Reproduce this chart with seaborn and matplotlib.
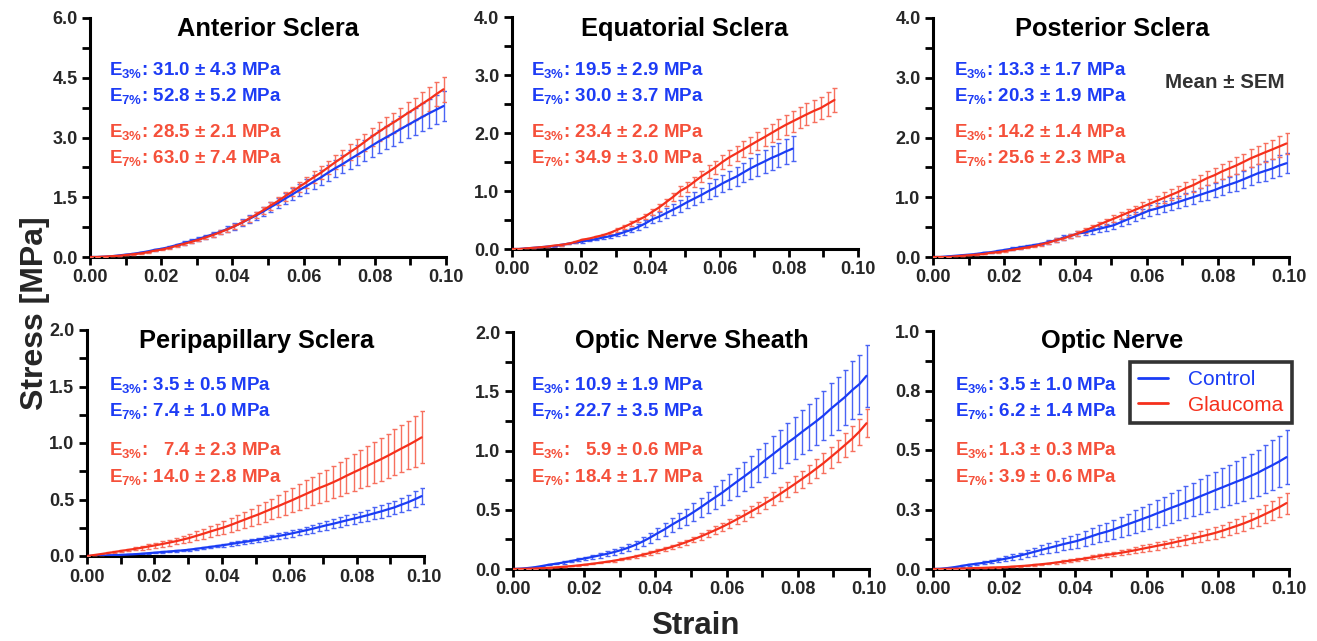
import matplotlib
matplotlib.use("Agg")
import matplotlib.pyplot as plt
import seaborn as sns
import pandas as pd
from matplotlib.ticker import MultipleLocator, FixedLocator

# ---------------- data ----------------
STRAIN = [0.0000, 0.0020, 0.0041, 0.0061, 0.0081, 0.0101, 0.0122, 0.0142, 0.0162, 0.0182,
          0.0203, 0.0223, 0.0243, 0.0264, 0.0284, 0.0304, 0.0324, 0.0345, 0.0365, 0.0385,
          0.0405, 0.0426, 0.0446, 0.0466, 0.0486, 0.0507, 0.0527, 0.0547, 0.0568, 0.0588,
          0.0608, 0.0628, 0.0649, 0.0669, 0.0689, 0.0709, 0.0730, 0.0750, 0.0770, 0.0791,
          0.0811, 0.0831, 0.0851, 0.0872, 0.0892, 0.0912, 0.0932, 0.0953, 0.0973, 0.0993]

TITLES = ["Anterior Sclera", "Equatorial Sclera", "Posterior Sclera",
          "Peripapillary Sclera", "Optic Nerve Sheath", "Optic Nerve"]
GROUPS = ["Control", "Glaucoma"]

# Anterior sclera
ant_ctrl = [0, 0, .01, .02, .04, .06, .08, .11, .14, .18, .21, .25, .30, .35, .40, .45, .51, .57, .63, .70,
            .77, .86, .95, 1.04, 1.14, 1.25, 1.35, 1.46, 1.57, 1.68, 1.78, 1.89, 2.00, 2.12, 2.23, 2.33, 2.45,
            2.56, 2.67, 2.79, 2.90, 3.00, 3.10, 3.21, 3.31, 3.41, 3.51, 3.61, 3.70, 3.79]
ant_ctrl_sem = [0, 0, 0, 0, .01, .01, .01, .01, .02, .02, .02, .03, .03, .04, .04, .05, .05, .06, .06, .07,
                .08, .09, .10, .10, .11, .12, .13, .14, .15, .16, .17, .18, .19, .20, .21, .22, .23, .25,
                .26, .27, .29, .30, .31, .32, .33, .34, .35, .36, .37, .38]
ant_glc = [0, 0, .01, .02, .03, .05, .07, .09, .12, .16, .19, .23, .28, .33, .38, .43, .49, .55, .62, .69,
           .77, .86, .96, 1.06, 1.17, 1.29, 1.40, 1.52, 1.64, 1.76, 1.88, 2.00, 2.12, 2.25, 2.38, 2.50, 2.63,
           2.75, 2.88, 3.02, 3.14, 3.26, 3.37, 3.49, 3.61, 3.72, 3.84, 3.96, 4.09, 4.21]
ant_glc_sem = [0, 0, 0, 0, 0, .01, .01, .01, .01, .01, .01, .02, .02, .02, .03, .03, .04, .04, .05, .05,
               .06, .06, .07, .08, .09, .10, .10, .11, .12, .13, .14, .15, .16, .17, .18, .19, .20, .21,
               .22, .23, .24, .25, .25, .26, .27, .28, .29, .30, .31, .32]

# Equatorial sclera
equ_ctrl = [0, 0, .01, .02, .03, .04, .05, .07, .09, .11, .13, .15, .17, .20, .22, .25, .29, .33, .38, .44,
            .51, .56, .62, .68, .74, .81, .87, .93, 1.00, 1.06, 1.13, 1.19, 1.25, 1.32, 1.39, 1.45, 1.51,
            1.57, 1.62, 1.68, 1.73]
equ_ctrl_sem = [0, 0, 0, 0, 0, .01, .01, .01, .01, .01, .02, .02, .02, .03, .03, .03, .04, .04, .05, .06,
                .07, .07, .08, .09, .10, .11, .11, .12, .13, .14, .15, .15, .16, .17, .18, .19, .20, .20,
                .21, .22, .22]
equ_glc = [0, 0, .01, .02, .03, .04, .06, .07, .09, .12, .16, .18, .21, .24, .28, .33, .38, .44, .50, .56,
           .64, .72, .81, .90, 1.00, 1.07, 1.16, 1.25, 1.33, 1.41, 1.50, 1.58, 1.65, 1.72, 1.79, 1.86, 1.93,
           2.00, 2.07, 2.14, 2.20, 2.26, 2.32, 2.38, 2.43, 2.50, 2.57]
equ_glc_sem = [0, 0, 0, 0, 0, 0, 0, .01, .01, .01, .01, .01, .02, .02, .02, .03, .03, .04, .04, .04,
               .05, .06, .06, .07, .08, .09, .09, .10, .11, .11, .12, .13, .13, .14, .14, .15, .15, .16,
               .17, .17, .18, .18, .19, .19, .19, .20, .21]

# Posterior sclera
pos_ctrl = [0, 0, .01, .02, .03, .04, .05, .07, .08, .10, .12, .14, .16, .18, .20, .22, .25, .28, .32, .35,
            .39, .41, .44, .47, .50, .53, .58, .63, .68, .73, .78, .81, .85, .88, .92, .96, 1.00, 1.04,
            1.08, 1.12, 1.17, 1.21, 1.25, 1.30, 1.35, 1.40, 1.44, 1.48, 1.53, 1.57]
pos_ctrl_sem = [0, 0, 0, 0, 0, 0, .01, .01, .01, .01, .01, .02, .02, .02, .02, .02, .03, .03, .04, .04,
                .04, .05, .05, .05, .06, .06, .06, .07, .07, .08, .09, .09, .09, .10, .10, .11, .11, .11,
                .12, .12, .13, .13, .14, .14, .15, .15, .16, .16, .17, .17]
pos_glc = [0, 0, 0, .01, .02, .03, .04, .05, .07, .08, .10, .12, .14, .16, .18, .21, .24, .28, .31, .35,
           .39, .44, .49, .54, .59, .64, .69, .74, .79, .84, .89, .94, .99, 1.04, 1.09, 1.15, 1.20, 1.26,
           1.32, 1.37, 1.43, 1.48, 1.53, 1.59, 1.65, 1.70, 1.75, 1.80, 1.85, 1.90]
pos_glc_sem = [0, 0, 0, 0, 0, 0, 0, 0, .01, .01, .01, .01, .01, .01, .02, .02, .02, .03, .03, .03,
               .04, .04, .04, .05, .05, .06, .06, .07, .07, .08, .08, .08, .09, .09, .10, .10, .11, .11,
               .12, .12, .13, .13, .14, .14, .15, .15, .16, .16, .17, .17]

# Peripapillary sclera
pps_ctrl = [0, .001, .003, .005, .008, .010, .013, .016, .020, .025, .030, .035, .040, .045, .050, .056,
            .064, .072, .080, .088, .096, .106, .115, .124, .133, .143, .154, .165, .177, .188, .200, .213,
            .227, .241, .256, .271, .285, .300, .315, .330, .345, .360, .377, .394, .412, .430, .453, .476,
            .502, .530]
pps_ctrl_sem = [0, 0, 0, .001, .001, .001, .002, .002, .003, .004, .004, .005, .006, .006, .007, .008,
                .009, .010, .011, .012, .013, .015, .016, .017, .019, .020, .022, .023, .025, .026, .028,
                .030, .032, .034, .036, .038, .040, .042, .044, .046, .048, .050, .053, .055, .058, .060,
                .063, .067, .070, .074]
pps_glc = [0, .008, .017, .026, .035, .045, .054, .063, .073, .084, .095, .106, .118, .131, .145, .160,
           .178, .197, .216, .234, .252, .274, .297, .320, .343, .366, .391, .416, .442, .468, .493, .520,
           .548, .575, .602, .625, .652, .680, .710, .740, .768, .797, .826, .856, .886, .918, .950, .982,
           1.015, 1.050]
pps_glc_sem = [0, .002, .004, .006, .008, .010, .012, .014, .016, .018, .021, .023, .026, .029, .032,
               .035, .039, .043, .048, .051, .055, .060, .065, .070, .075, .081, .086, .092, .097, .103,
               .108, .114, .121, .127, .132, .138, .143, .150, .156, .163, .169, .175, .182, .188, .195,
               .202, .209, .216, .223, .231]

# Optic nerve sheath
ons_ctrl = [0, .003, .008, .015, .025, .036, .045, .055, .066, .078, .090, .102, .115, .128, .143, .160,
            .180, .205, .233, .265, .300, .335, .373, .408, .440, .480, .520, .562, .605, .645, .690, .735,
            .780, .825, .870, .920, .968, 1.015, 1.062, 1.108, 1.155, 1.200, 1.245, 1.295, 1.350, 1.400,
            1.450, 1.510, 1.560, 1.630]
ons_ctrl_sem = [0, 0, .001, .002, .004, .006, .007, .009, .011, .012, .014, .016, .018, .020, .023,
                .026, .029, .033, .037, .042, .048, .054, .060, .065, .070, .077, .083, .090, .097, .103,
                .110, .118, .125, .132, .139, .147, .155, .162, .170, .177, .185, .192, .199, .207, .216,
                .224, .232, .242, .250, .261]
ons_glc = [0, .001, .002, .004, .007, .010, .014, .019, .024, .030, .037, .044, .052, .061, .070, .081,
           .093, .106, .120, .135, .151, .168, .186, .205, .226, .250, .274, .300, .328, .356, .386, .418,
           .452, .486, .520, .556, .594, .633, .673, .716, .758, .800, .845, .893, .943, .993, 1.045,
           1.100, 1.160, 1.230]
ons_glc_sem = [0, 0, 0, 0, .001, .001, .001, .002, .002, .003, .004, .004, .005, .006, .007, .008,
               .009, .010, .011, .013, .014, .016, .018, .019, .021, .024, .026, .029, .031, .034, .037,
               .040, .043, .046, .049, .053, .056, .060, .064, .068, .072, .076, .080, .085, .090, .094,
               .099, .105, .110, .117]

# Optic nerve
on_ctrl = [0, .001, .004, .008, .013, .018, .022, .026, .031, .037, .043, .049, .056, .064, .072, .080,
           .088, .096, .104, .111, .118, .128, .138, .148, .156, .166, .177, .188, .199, .210, .221, .233,
           .245, .257, .268, .280, .292, .305, .317, .330, .342, .354, .366, .378, .391, .404, .420, .436,
           .452, .470]
on_ctrl_sem = [0, 0, .001, .002, .003, .004, .005, .006, .007, .009, .010, .012, .013, .015, .017, .019,
               .021, .023, .025, .027, .028, .031, .033, .036, .037, .040, .042, .045, .048, .050, .053,
               .056, .059, .062, .064, .067, .070, .073, .076, .079, .082, .085, .088, .091, .094, .097,
               .101, .105, .108, .113]
on_glc = [0, 0, .001, .001, .002, .003, .004, .005, .006, .007, .008, .010, .012, .014, .017, .020, .023,
          .027, .031, .035, .039, .044, .049, .054, .059, .063, .068, .073, .079, .085, .091, .097, .103,
          .109, .116, .122, .129, .136, .143, .151, .160, .170, .180, .191, .203, .216, .230, .245, .260,
          .277]
on_glc_sem = [0, 0, 0, 0, 0, 0, .001, .001, .001, .001, .001, .002, .002, .002, .003, .003, .004, .004,
              .005, .006, .006, .007, .008, .009, .009, .010, .011, .012, .013, .014, .015, .016, .016,
              .017, .019, .020, .021, .022, .023, .024, .026, .027, .029, .031, .032, .035, .037, .039,
              .042, .044]

# modulus annotations (control first, glaucoma second)
ANNOT = [
    [("3", "31.0 ± 4.3 MPa"), ("7", "52.8 ± 5.2 MPa"), ("3", "28.5 ± 2.1 MPa"), ("7", "63.0 ± 7.4 MPa")],
    [("3", "19.5 ± 2.9 MPa"), ("7", "30.0 ± 3.7 MPa"), ("3", "23.4 ± 2.2 MPa"), ("7", "34.9 ± 3.0 MPa")],
    [("3", "13.3 ± 1.7 MPa"), ("7", "20.3 ± 1.9 MPa"), ("3", "14.2 ± 1.4 MPa"), ("7", "25.6 ± 2.3 MPa")],
    [("3", "3.5 ± 0.5 MPa"), ("7", "7.4 ± 1.0 MPa"), ("3", "  7.4 ± 2.3 MPa"), ("7", "14.0 ± 2.8 MPa")],
    [("3", "10.9 ± 1.9 MPa"), ("7", "22.7 ± 3.5 MPa"), ("3", "  5.9 ± 0.6 MPa"), ("7", "18.4 ± 1.7 MPa")],
    [("3", "3.5 ± 1.0 MPa"), ("7", "6.2 ± 1.4 MPa"), ("3", "1.3 ± 0.3 MPa"), ("7", "3.9 ± 0.6 MPa")],
]

Y_MAX = [6.0, 4.0, 4.0, 2.0, 2.0, 1.0]
Y_TICKS = [[0.0, 1.5, 3.0, 4.5, 6.0], [0, 1, 2, 3, 4], [0, 1, 2, 3, 4],
           [0.0, 0.5, 1.0, 1.5, 2.0], [0.0, 0.5, 1.0, 1.5, 2.0], [0.0, 0.25, 0.5, 0.75, 1.0]]
Y_TICKLABELS = [["0.0", "1.5", "3.0", "4.5", "6.0"], ["0.0", "1.0", "2.0", "3.0", "4.0"],
                ["0.0", "1.0", "2.0", "3.0", "4.0"], ["0.0", "0.5", "1.0", "1.5", "2.0"],
                ["0.0", "0.5", "1.0", "1.5", "2.0"], ["0.0", "0.3", "0.5", "0.8", "1.0"]]
X_TICKS = [0.00, 0.02, 0.04, 0.06, 0.08, 0.10]
X_TICKLABELS = ["0.00", "0.02", "0.04", "0.06", "0.08", "0.10"]

SERIES = [
    (ant_ctrl, ant_ctrl_sem, ant_glc, ant_glc_sem),
    (equ_ctrl, equ_ctrl_sem, equ_glc, equ_glc_sem),
    (pos_ctrl, pos_ctrl_sem, pos_glc, pos_glc_sem),
    (pps_ctrl, pps_ctrl_sem, pps_glc, pps_glc_sem),
    (ons_ctrl, ons_ctrl_sem, ons_glc, ons_glc_sem),
    (on_ctrl, on_ctrl_sem, on_glc, on_glc_sem),
]

# ---------------- style ----------------
sns.set_theme(style="ticks")
plt.rcParams["font.family"] = ["Liberation Sans", "DejaVu Sans"]
plt.rcParams["mathtext.fontset"] = "custom"
plt.rcParams["mathtext.rm"] = "Liberation Sans"
plt.rcParams["mathtext.bf"] = "Liberation Sans:bold"
plt.rcParams["mathtext.it"] = "Liberation Sans:italic"

BLUE_LINE = "#1a3cf5"
RED_LINE = "#f5301c"
BLUE_TXT = "#1d3cf5"
RED_TXT = "#f5503a"
BLUE_ERR = "#4a64f5"
RED_ERR = "#f7705e"

W, H = 1317, 641
fig = plt.figure(figsize=(W / 100, H / 100), dpi=100)

# pixel boxes: x0, x1, ytop, ybottom
BOXES = [(90, 446, 18, 257), (512, 858, 17, 249), (933, 1289, 18, 257),
         (87, 424, 330, 556), (513, 869, 332, 569), (933, 1289, 331, 569)]
TITLE_POS = [(268, 29), (685, 29), (1112, 29), (257, 341), (692, 341), (1112, 341)]
TEXT_X = [109, 531, 954, 109, 531, 955]
TEXT_Y_TOP = [70, 96, 132, 158]
TEXT_Y_BOT = [385, 411, 450, 477]


def fx(px):
    return px / W


def fy(py):
    return 1 - py / H


lines_for_legend = []
for i, (box, title) in enumerate(zip(BOXES, TITLES)):
    x0, x1, yt, yb = box
    ax = fig.add_axes([fx(x0), fy(yb), (x1 - x0) / W, (yb - yt) / H])
    c_mean, c_sem, g_mean, g_sem = SERIES[i]
    xc = STRAIN[:len(c_mean)]
    xg = STRAIN[:len(g_mean)]
    df = pd.concat([
        pd.DataFrame({"strain": xc, "stress": c_mean, "group": "Control"}),
        pd.DataFrame({"strain": xg, "stress": g_mean, "group": "Glaucoma"}),
    ])
    ax.errorbar(xc, c_mean, yerr=c_sem, fmt="none", ecolor=BLUE_ERR, elinewidth=1.0,
                capsize=1.8, capthick=1.0, zorder=2)
    ax.errorbar(xg, g_mean, yerr=g_sem, fmt="none", ecolor=RED_ERR, elinewidth=1.0,
                capsize=1.8, capthick=1.0, zorder=3)
    sns.lineplot(data=df, x="strain", y="stress", hue="group",
                 palette={"Control": BLUE_LINE, "Glaucoma": RED_LINE},
                 linewidth=1.6, ax=ax, legend=False, zorder=4, estimator=None)

    ax.set_xlim(0, 0.1)
    ax.set_ylim(0, Y_MAX[i])
    ax.set_xlabel("")
    ax.set_ylabel("")
    ax.xaxis.set_major_locator(FixedLocator(X_TICKS))
    ax.set_xticklabels(X_TICKLABELS)
    ax.xaxis.set_minor_locator(MultipleLocator(0.01))
    ax.yaxis.set_major_locator(FixedLocator(Y_TICKS[i]))
    ax.set_yticklabels(Y_TICKLABELS[i])
    ax.yaxis.set_minor_locator(MultipleLocator((Y_TICKS[i][1] - Y_TICKS[i][0]) / 2))
    for s in ["top", "right"]:
        ax.spines[s].set_visible(False)
    for s in ["left", "bottom"]:
        ax.spines[s].set_linewidth(2.2)
        ax.spines[s].set_color("black")
    ax.tick_params(which="major", direction="out", length=6, width=2.0, color="black",
                   labelsize=13, pad=3)
    ax.tick_params(which="minor", direction="out", length=6, width=2.0, color="black")
    for lab in ax.get_xticklabels() + ax.get_yticklabels():
        lab.set_fontweight("bold")
    ax.patch.set_alpha(0)
    for sp in ax.spines.values():
        sp.set_capstyle("projecting")

    tx, ty = TITLE_POS[i]
    fig.text(fx(tx), fy(ty), title, ha="center", va="center", fontsize=18.3,
             fontweight="bold", color="black")

    ys = TEXT_Y_TOP if i < 3 else TEXT_Y_BOT
    for j, (sub, val) in enumerate(ANNOT[i]):
        col = BLUE_TXT if j < 2 else RED_TXT
        s = r"$\mathbf{E_{" + sub + r"\%}}$" + ": " + val
        fig.text(fx(TEXT_X[i]), fy(ys[j]), s, ha="left", va="center", fontsize=13.5,
                 fontweight="bold", color=col)

    if i == 5:
        lines_for_legend = ax.get_lines()[-2:]

# Mean ± SEM
fig.text(fx(1225), fy(82), "Mean ± SEM", ha="center", va="center", fontsize=14.8,
         fontweight="bold", color="#333333")

# axis labels
fig.text(fx(35), fy(313), "Stress [MPa]", rotation=90, ha="center", va="center",
         fontsize=23, fontweight="bold")
fig.text(fx(695), fy(626), "Strain", ha="center", va="center", fontsize=22.5, fontweight="bold")

# legend
leg = fig.legend(handles=lines_for_legend, labels=GROUPS, loc="upper right",
                 bbox_to_anchor=(fx(1292), fy(362)), bbox_transform=fig.transFigure,
                 borderaxespad=0, frameon=True, fancybox=False, edgecolor="black",
                 fontsize=15, handlelength=1.4, handletextpad=1.0, labelspacing=0.3,
                 borderpad=0.4, labelcolor="linecolor")
leg.get_frame().set_linewidth(2.6)
for ln in leg.get_lines():
    ln.set_linewidth(2.0)

fig.savefig("out.png", dpi=100)
